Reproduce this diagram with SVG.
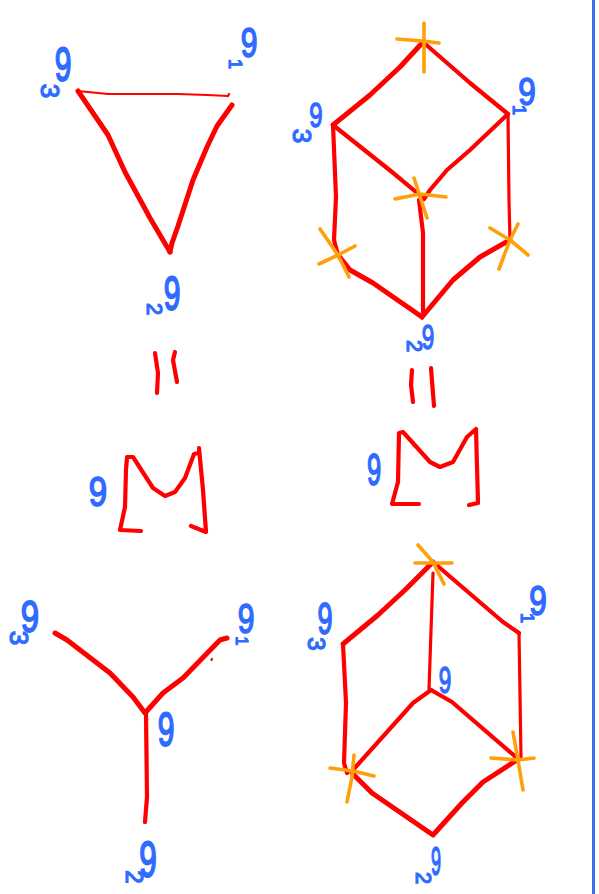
<svg xmlns="http://www.w3.org/2000/svg" width="599" height="894" viewBox="0 0 599 894">
<style>
path{fill:none;stroke-linecap:round;stroke-linejoin:round}
.r{stroke:#f00;stroke-width:4.2}
.t{stroke:#f00;stroke-width:3.2}
.f{stroke:#f00;stroke-width:2.2}
.h{stroke:#f00;stroke-width:5}
.o{stroke:#ff9f0a;stroke-width:3.6}
.b{stroke:#3b6ff0;stroke-width:3}
text{font-family:"Liberation Sans",sans-serif;fill:#2f6bff;stroke:#2f6bff;text-anchor:middle;dominant-baseline:central}
.g{font-size:30px;stroke-width:1.2px}
.s{stroke-width:1.3px}
</style>
<rect width="599" height="894" fill="#fff"/>
<path id="divider" class="b" d="M593.500 0V894"/>
<g id="connectors">
<path class="f" d="M78 91 108 94 134 94 178 94 207 95 228 96 229 94"/>
<path class="h" d="M78 91 108 135 125 172 150 218 170 252"/>
<path class="h" d="M232 105 217 126 207 147 193 180 178 226 172 243 170 252"/>
<path class="h" d="M423 42 400 67 370 95 333 125"/>
<path class="r" d="M423 42 470 83 508 114"/>
<path class="r" d="M333 125 392 172 422 197"/>
<path class="r" d="M508 114 470 150 447 170 430 190 424 199"/>
<path class="r" d="M333 125 336 197 334 240 338 255"/>
<path class="h" d="M338 255 350 270 373 283 422 317"/>
<path class="r" d="M419 200 423 233 423 315"/>
<path class="h" d="M422 317 453 280 480 257 510 240"/>
<path class="t" d="M508 114 509 200 510 240"/>
<path class="r" d="M155 353 158 373 157 393"/>
<path class="r" d="M175 352 173 360 177 382"/>
<path class="r" d="M412 370 411 385 413 402"/>
<path class="r" d="M431 368 434 406"/>
<path class="r" d="M141 531 120 530 125 507 126 470 127 457 133 457 153 488 165 496 175 492 185 478 194 454 199 453"/>
<path class="r" d="M199 448 203 490 206 532 191 526"/>
<path class="r" d="M419 504 392 504 398 482 399 433 403 432 430 462 440 467 453 462 467 437 476 429 478 503 469 505"/>
<path class="h" d="M55 633 67 640 110 673 133 697 145 713"/>
<path class="h" d="M227 638 220 640 183 678 163 693 145 713"/>
<path class="r" d="M146 713 147 797 145 822"/>
<path class="f" d="M212 659 211.500 660"/>
<path class="h" d="M433 562 405 590 378 615 343 644"/>
<path class="r" d="M433 562 503 622 519 633"/>
<path class="t" d="M433 573 429 689"/>
<path class="r" d="M343 644 346 703 344 763 347 773"/>
<path class="t" d="M519 633 521 757"/>
<path class="r" d="M431 690 413 703 352 771"/>
<path class="r" d="M431 690 452 702 517 758"/>
<path class="h" d="M352 773 372 793 433 835 462 803 483 782 517 760"/>
</g>
<g id="crosses">
<g id="x1"><path class="o" d="M424 23V72"/><path class="o" d="M397 39 423 41 439 43"/></g>
<g id="x2"><path class="o" d="M395 199 420 194 446 197"/><path class="o" d="M414 178 427 218"/></g>
<g id="x3"><path class="o" d="M320 229 338 255 349 277"/><path class="o" d="M319 264 338 255 355 246"/></g>
<g id="x4"><path class="o" d="M490 228 510 240 528 255"/><path class="o" d="M518 224 510 240 499 269"/></g>
<g id="x5"><path class="o" d="M418 545 433 562 444 584"/><path class="o" d="M415 563H452"/></g>
<g id="x6"><path class="o" d="M330 768 353 771 374 776"/><path class="o" d="M354 755 352 777 347 802"/></g>
<g id="x7"><path class="o" d="M491 758 518 760 534 758"/><path class="o" d="M513 732 518 760 523 790"/></g>
</g>
<g id="n-tri-3"><text class="g" transform="translate(63 64) scale(1 1.6)">9</text><text class="s" font-size="26" transform="translate(50 91) rotate(90)">3</text></g>
<g id="n-tri-1"><text class="g" transform="translate(249 43) scale(1 1.4)">9</text><text class="s" font-size="18" transform="translate(235 64) rotate(90)">1</text></g>
<g id="n-tri-2"><text class="g" transform="translate(172 293) scale(1 1.6)">9</text><text class="s" font-size="22" transform="translate(154 309) rotate(90)">2</text></g>
<g id="n-cube1-3"><text class="g" transform="translate(316 115) scale(.8 1.15)">9</text><text class="s" font-size="26" transform="translate(302 136) rotate(90)">3</text></g>
<g id="n-cube1-1"><text class="g" transform="translate(527 92) scale(1.05 1.3)">9</text><text class="s" font-size="18" transform="translate(519 110) rotate(90)">1</text></g>
<g id="n-cube1-2"><text class="g" transform="translate(428 337) scale(.75 1.15)">9</text><text class="s" font-size="22" transform="translate(414 346) rotate(90)">2</text></g>
<g id="n-m1"><text class="g" transform="translate(98 492) scale(1.1 1.4)">9</text></g>
<g id="n-m2"><text class="g" transform="translate(374 470) scale(.85 1.5)">9</text></g>
<g id="n-y-3"><text class="g" transform="translate(30 616) scale(1.1 1.5)">9</text><text class="s" font-size="26" transform="translate(19 638) rotate(90)">3</text></g>
<g id="n-y-1"><text class="g" transform="translate(246 619) scale(1 1.4)">9</text><text class="s" font-size="16" transform="translate(241 641) rotate(90)">1</text></g>
<g id="n-y-c"><text class="g" transform="translate(166 729) scale(1 1.6)">9</text></g>
<g id="n-y-2"><text class="g" transform="translate(148 860) scale(1.05 1.65)">9</text><text class="s" font-size="24" transform="translate(134 877) rotate(90)">2</text></g>
<g id="n-cube2-3"><text class="g" transform="translate(325 618) scale(.9 1.5)">9</text><text class="s" font-size="24" transform="translate(316 644) rotate(90)">3</text></g>
<g id="n-cube2-1"><text class="g" transform="translate(538 600) scale(1.05 1.4)">9</text><text class="s" font-size="18" transform="translate(527 618) rotate(90)">1</text></g>
<g id="n-cube2-c"><text class="g" transform="translate(445 680) scale(.75 1.25)">9</text></g>
<g id="n-cube2-2"><text class="g" transform="translate(436 861) scale(.6 1.35)">9</text><text class="s" font-size="22" transform="translate(423 878) rotate(90)">2</text></g>
</svg>
